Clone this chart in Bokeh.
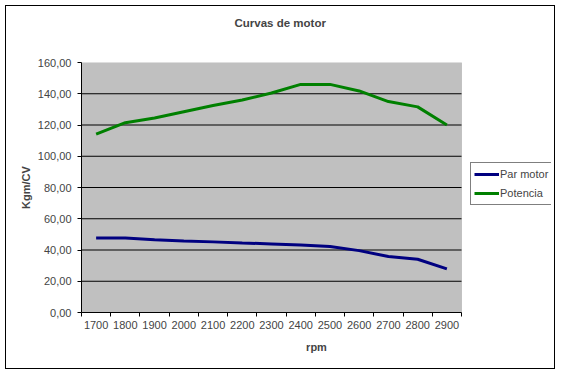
from bokeh.plotting import figure
from bokeh.models import (FixedTicker, Legend, LegendItem, Range1d, ColumnDataSource,
                          Title, BoxAnnotation)
from bokeh.embed import file_html
from bokeh.resources import INLINE

# ---- data ----
rpm = ["1700", "1800", "1900", "2000", "2100", "2200", "2300",
       "2400", "2500", "2600", "2700", "2800", "2900"]
par_motor = [47.7, 47.7, 46.6, 45.8, 45.2, 44.5, 43.9, 43.2, 42.2, 39.6, 35.8, 34.1, 27.9]
potencia = [114.1, 121.5, 124.5, 128.5, 132.5, 136.0, 140.5, 146.0, 146.0, 141.8, 135.0, 131.6, 120.0]
y_ticks = [0, 20, 40, 60, 80, 100, 120, 140, 160]
y_labels = ["0,00", "20,00", "40,00", "60,00", "80,00", "100,00", "120,00", "140,00", "160,00"]

FONT = "Liberation Sans"

n = len(rpm)
idx = list(range(n))
src = ColumnDataSource(dict(x=idx, par=par_motor, pot=potencia))

# plot area spans categories (380 px); the frame extends further right to host the legend
FRAME_W = 470
CAT_W = 380
x_lo, x_hi = -0.5, n - 0.5
x_end = x_lo + (x_hi - x_lo) * FRAME_W / CAT_W

p = figure(width=550, height=364, output_backend="svg", toolbar_location=None,
           x_range=Range1d(x_lo, x_end), y_range=Range1d(y_ticks[0], y_ticks[-1]),
           min_border_left=75, min_border_right=550 - 75 - FRAME_W,
           min_border_top=56, min_border_bottom=58,
           background_fill_color="white", border_fill_color="white")
p.styles = {"border": "1px solid black", "margin-left": "5px", "margin-top": "5px"}
p.outline_line_color = None

# grey plot area with grey border
p.add_layout(BoxAnnotation(left=x_lo, right=x_hi, fill_color="#C0C0C0", fill_alpha=1,
                           line_color="#808080", line_width=1, level="underlay"))

# title (outermost), with a spacer between it and the plot area
p.title.text = "Curvas de motor"
p.title.text_font = FONT
p.title.text_font_size = "11.5px"
p.title.text_font_style = "bold"
p.title.align = "left"
p.title.offset = 153
p.title.standoff = 10
p.add_layout(Title(text=" ", text_font_size="1px", standoff=26), "above")

# grids (horizontal black lines across the plot area only)
p.xgrid.grid_line_color = None
p.ygrid.grid_line_color = None
grid_y = y_ticks[1:-1]
p.segment(x0=[x_lo] * len(grid_y), x1=[x_hi] * len(grid_y), y0=grid_y, y1=grid_y,
          line_color="black", line_width=1)

# x axis
xa = p.xaxis[0]
xa.bounds = (x_lo, x_hi)
xa.ticker = FixedTicker(ticks=idx, minor_ticks=[i - 0.5 for i in range(n + 1)])
xa.major_label_overrides = {i: r for i, r in zip(idx, rpm)}
xa.major_tick_out = 0
xa.major_tick_in = 0
xa.minor_tick_out = 4
xa.minor_tick_in = 0
xa.minor_tick_line_color = "black"
xa.axis_line_color = "black"
xa.major_label_text_font = FONT
xa.major_label_text_font_size = "11px"
xa.major_label_standoff = 4
xa.axis_label = "rpm"
xa.axis_label_text_font = FONT
xa.axis_label_text_font_size = "11px"
xa.axis_label_text_font_style = "bold"
xa.axis_label_standoff = 9

# y axis
ya = p.yaxis[0]
ya.ticker = FixedTicker(ticks=y_ticks, minor_ticks=[])
ya.major_label_overrides = {t: l for t, l in zip(y_ticks, y_labels)}
ya.major_tick_out = 4
ya.major_tick_in = 0
ya.minor_tick_line_color = None
ya.axis_line_color = "black"
ya.major_label_text_font = FONT
ya.major_label_text_font_size = "11px"
ya.major_label_standoff = 6
ya.axis_label = "Kgm/CV"
ya.axis_label_text_font = FONT
ya.axis_label_text_font_size = "11px"
ya.axis_label_text_font_style = "bold"
ya.axis_label_standoff = 3

r1 = p.line("x", "par", source=src, line_color="#000080", line_width=3)
r2 = p.line("x", "pot", source=src, line_color="#008000", line_width=3)

legend = Legend(items=[LegendItem(label="Par motor", renderers=[r1]),
                       LegendItem(label="Potencia", renderers=[r2])],
                location=(CAT_W + 9, 107),
                border_line_color="black", border_line_width=1,
                background_fill_color="white", background_fill_alpha=1,
                padding=3, spacing=3, margin=0,
                glyph_width=25, glyph_height=16, label_height=16,
                label_standoff=1,
                label_text_font=FONT, label_text_font_size="11px")
p.add_layout(legend, "center")

open("out.html", "w").write(file_html(p, INLINE))
